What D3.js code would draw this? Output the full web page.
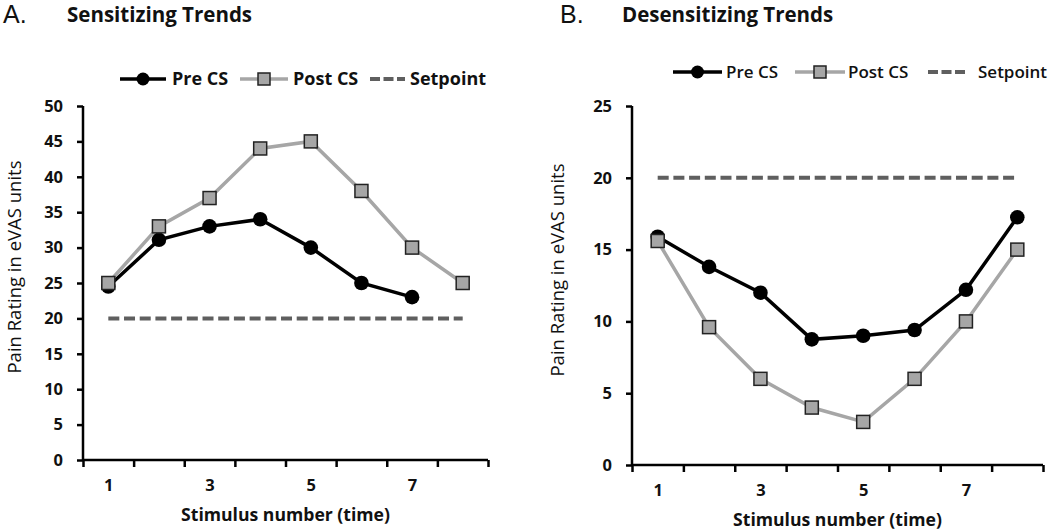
<!DOCTYPE html>
<html><head><meta charset="utf-8">
<script src="https://cdn.jsdelivr.net/npm/d3@7"></script>
<style>
body{margin:0;background:#fff;}
svg text{font-family:"Open Sans",sans-serif;fill:#111;}
</style></head>
<body><svg id="c" width="1050" height="532"></svg>
<script>
const stimuli = [1,2,3,4,5,6,7,8];
const tickLabels = [1,3,5,7];
// Panel A: Sensitizing Trends
const sensPre  = [24.5, 31.1, 33, 34, 30, 25, 23, null];
const sensPost = [25, 33, 37, 44, 45, 38, 30, 25];
const sensSetpoint = 20;
const sensYTicks = [0,5,10,15,20,25,30,35,40,45,50];
// Panel B: Desensitizing Trends
const desPre  = [15.9, 13.8, 12.0, 8.75, 9.0, 9.4, 12.2, 17.25];
const desPost = [15.6, 9.6, 6.0, 4.0, 3.0, 6.0, 10.0, 15.0];
const desSetpoint = 20;
const desYTicks = [0,5,10,15,20,25];
const seriesNames = ["Pre CS","Post CS","Setpoint"];

const svg = d3.select("#c");
const C_PRE="#000", C_POST="#a6a6a6", C_SET="#5f5f5f", C_SQ="#a6a6a6";

function panel(o){
  const g = svg.append("g");
  const x = d3.scaleLinear().domain([0.5, 8.5]).range([o.x0, o.x1]);
  const y = d3.scaleLinear().domain([0, o.ymax]).range([o.yb, o.yt]);
  // axes
  const yAx = g.append("g").attr("transform",`translate(${o.x0},0)`)
    .call(d3.axisLeft(y).tickValues(o.yTicks).tickSize(6).tickPadding(14));
  yAx.selectAll("path,line").attr("stroke","#000").attr("stroke-width",2.5);
  yAx.select(".domain").attr("d",`M0,${o.yb}V${o.yt}`);
  yAx.selectAll("text").attr("font-size","16.5px").attr("font-weight","bold").attr("fill","#111").style("font-family","'Open Sans',sans-serif");
  const bounds = d3.range(0.5, 8.51, 1);
  const xAx = g.append("g").attr("transform",`translate(0,${o.yb})`)
    .call(d3.axisBottom(x).tickValues(bounds).tickFormat("").tickSize(7).tickSizeOuter(0));
  xAx.selectAll("path,line").attr("stroke","#000").attr("stroke-width",2.5);
  xAx.select(".domain").attr("d",`M${o.x0},0H${o.x1}`);
  const xLab = g.append("g").attr("transform",`translate(0,${o.yb})`)
    .call(d3.axisBottom(x).tickValues(tickLabels).tickSize(0).tickPadding(19));
  xLab.select(".domain").remove();
  xLab.selectAll("text").attr("font-size","16.5px").attr("font-weight","bold").attr("fill","#111").style("font-family","'Open Sans',sans-serif");
  // axis titles
  g.append("text").attr("x",(o.x0+o.x1)/2).attr("y",o.yb+61).attr("text-anchor","middle")
    .attr("font-size","17.6px").attr("font-weight","bold").text("Stimulus number (time)");
  g.append("text").attr("transform",`translate(${o.ylx},${o.ylc}) rotate(-90)`).attr("text-anchor","middle")
    .attr("font-size","18.5px").text("Pain Rating in eVAS units");
  // setpoint
  g.append("line").attr("x1",x(1)).attr("x2",x(8)).attr("y1",y(o.set)).attr("y2",y(o.set))
    .attr("stroke",C_SET).attr("stroke-width",4).attr("stroke-dasharray","11,4.7");
  const line = d3.line().defined(d=>d[1]!=null).x(d=>x(d[0])).y(d=>y(d[1]));
  const post = stimuli.map((s,i)=>[s,o.post[i]]);
  const pre = stimuli.map((s,i)=>[s,o.pre[i]]);
  g.append("path").datum(pre).attr("d",line).attr("fill","none").attr("stroke",C_PRE).attr("stroke-width",3.5);
  g.selectAll(".pc").data(pre.filter(d=>d[1]!=null)).enter().append("circle")
    .attr("cx",d=>x(d[0])).attr("cy",d=>y(d[1])).attr("r",7.3).attr("fill","#000");
  g.append("path").datum(post).attr("d",line).attr("fill","none").attr("stroke",C_POST).attr("stroke-width",3.5);
  const s=13;
  g.selectAll(".ps").data(post).enter().append("rect")
    .attr("x",d=>x(d[0])-s/2).attr("y",d=>y(d[1])-s/2).attr("width",s).attr("height",s)
    .attr("fill",C_SQ).attr("stroke","#222").attr("stroke-width",1.5);
  // titles
  g.append("text").attr("x",o.lx).attr("y",23).attr("font-size","25px")
    .style("font-family","'Liberation Sans',sans-serif").text(o.letter);
  g.append("text").attr("x",o.tx).attr("y",22).attr("font-size","20.5px").attr("font-weight","bold").text(o.title);
  // legend
  const L=o.leg, ly=o.ly, fs=o.lfs;
  const lg = g.append("g");
  lg.append("line").attr("x1",L[0]).attr("x2",L[1]).attr("y1",ly).attr("y2",ly).attr("stroke",C_PRE).attr("stroke-width",3.5);
  lg.append("circle").attr("cx",(L[0]+L[1])/2).attr("cy",ly).attr("r",6.5).attr("fill","#000");
  lg.append("text").attr("x",L[2]).attr("y",ly+6).attr("font-size",fs).attr("font-weight",o.lw).text(seriesNames[0]);
  lg.append("line").attr("x1",L[3]).attr("x2",L[4]).attr("y1",ly).attr("y2",ly).attr("stroke",C_POST).attr("stroke-width",3.5);
  lg.append("rect").attr("x",(L[3]+L[4])/2-6).attr("y",ly-6).attr("width",12).attr("height",12).attr("fill",C_SQ).attr("stroke","#222").attr("stroke-width",1.5);
  lg.append("text").attr("x",L[5]).attr("y",ly+6).attr("font-size",fs).attr("font-weight",o.lw).text(seriesNames[1]);
  lg.append("line").attr("x1",L[6]).attr("x2",L[7]).attr("y1",ly).attr("y2",ly).attr("stroke",C_SET).attr("stroke-width",4).attr("stroke-dasharray","10,3.5");
  lg.append("text").attr("x",L[8]).attr("y",ly+6).attr("font-size",fs).attr("font-weight",o.lw).text(seriesNames[2]);
}

panel({x0:83,x1:488,yb:460,yt:106,ymax:50,yTicks:sensYTicks,pre:sensPre,post:sensPost,set:sensSetpoint,
  ylx:20.5,ylc:267,letter:"A.",lx:3,tx:67,title:"Sensitizing Trends",
  leg:[120,166,172,240,288,293,370,405,410],ly:79,lw:"bold",lfs:"18px"});
panel({x0:632,x1:1043,yb:465,yt:106,ymax:25,yTicks:desYTicks,pre:desPre,post:desPost,set:desSetpoint,
  ylx:564,ylc:270,letter:"B.",lx:560,tx:622,title:"Desensitizing Trends",
  leg:[673,722,726,795,845,848,928,967,978],ly:72,lw:"600",lfs:"17px"});
</script></body></html>
